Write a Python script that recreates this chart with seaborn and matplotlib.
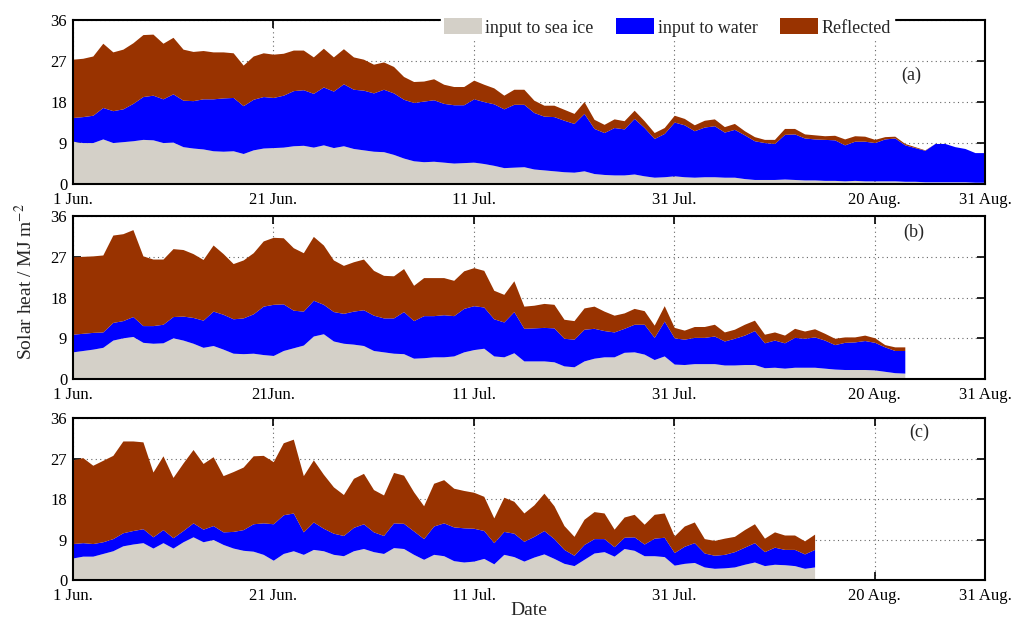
import numpy as np
import matplotlib
matplotlib.use("Agg")
from matplotlib import pyplot as plt
import seaborn as sns

# daily values (MJ m^-2), day 0 = 1 June
# each panel: top of "sea ice" layer, top of "water" layer, top of "reflected" layer (stacked)
ice_a = [9.4, 9.1, 9.1, 9.9, 9.1, 9.3, 9.5, 9.8, 9.7, 9.1, 9.2, 8.2, 7.9, 7.7, 7.3, 7.2, 7.3, 6.7, 7.5, 7.9,
         8.0, 8.1, 8.4, 8.5, 8.1, 8.6, 8.0, 8.4, 7.8, 7.5, 7.2, 7.1, 6.5, 5.7, 5.1, 4.9, 5.0, 4.8, 4.6, 4.7,
         4.8, 4.5, 4.1, 3.6, 3.7, 3.8, 3.3, 3.1, 2.9, 2.7, 2.6, 2.9, 2.3, 2.1, 2.0, 2.0, 2.2, 1.8, 1.5, 1.6,
         1.8, 1.6, 1.5, 1.6, 1.6, 1.5, 1.5, 1.2, 1.0, 1.0, 1.0, 1.1, 1.0, 0.9, 0.9, 0.8, 0.8, 0.7, 0.8, 0.7,
         0.7, 0.7, 0.7, 0.6, 0.6, 0.5, 0.5, 0.5, 0.5, 0.5, 0.4, 0.4]
water_a = [14.6, 14.8, 15.1, 16.8, 16.1, 16.5, 17.7, 19.2, 19.5, 18.7, 19.8, 18.4, 18.3, 18.7, 18.7, 18.9, 19.0, 17.2, 18.6, 19.2,
           19.0, 19.5, 20.5, 20.7, 19.9, 21.3, 20.4, 22.0, 20.8, 20.6, 20.0, 20.8, 20.0, 18.6, 17.9, 18.2, 18.5, 17.7, 17.4, 17.4,
           18.7, 18.1, 17.6, 16.5, 17.5, 17.5, 15.7, 14.9, 14.8, 14.0, 13.3, 15.5, 12.2, 11.3, 12.4, 12.1, 14.4, 12.4, 10.0, 11.1,
           13.6, 13.0, 11.7, 12.5, 12.8, 11.4, 12.0, 10.8, 9.5, 9.1, 8.9, 10.9, 11.0, 10.1, 9.9, 9.8, 9.7, 8.6, 9.4, 9.4,
           9.1, 9.9, 10.1, 8.6, 8.0, 7.4, 8.9, 8.9, 8.2, 7.8, 6.9, 6.9]
total_a = [27.4, 27.6, 28.1, 30.9, 29.0, 29.6, 31.0, 32.8, 32.9, 30.9, 32.2, 29.6, 29.1, 29.3, 29.0, 29.0, 28.8, 26.1, 28.1, 28.8,
           28.5, 28.7, 29.4, 29.4, 27.9, 29.8, 27.9, 29.7, 27.9, 27.4, 26.3, 26.8, 25.8, 23.6, 22.5, 22.6, 23.1, 21.9, 21.4, 21.4,
           22.8, 21.9, 21.1, 19.5, 20.8, 20.8, 18.4, 17.3, 17.3, 16.4, 15.5, 18.1, 14.2, 13.1, 14.3, 13.9, 16.2, 13.9, 11.3, 12.4,
           15.1, 14.4, 13.0, 14.0, 14.3, 12.6, 13.3, 11.7, 10.4, 9.8, 9.8, 12.2, 12.2, 11.0, 10.8, 10.6, 10.7, 9.9, 10.6, 10.5,
           9.8, 10.4, 10.5, 8.9, 8.2, 7.5, 8.9, 8.9, 8.2, 7.8, 6.9, 6.9]

ice_b = [6.0, 6.3, 6.6, 7.0, 8.6, 9.1, 9.4, 8.1, 7.9, 8.0, 9.1, 8.6, 7.9, 7.0, 7.4, 6.6, 5.7, 5.6, 5.7, 5.4,
         5.2, 6.3, 6.9, 7.5, 9.5, 10.0, 8.4, 7.9, 7.7, 7.4, 6.3, 6.0, 5.7, 5.6, 4.6, 4.7, 4.9, 4.9, 5.1, 6.0,
         6.5, 6.8, 5.1, 4.9, 5.8, 4.0, 4.0, 4.0, 3.8, 2.9, 2.7, 4.0, 4.6, 4.9, 4.9, 5.9, 6.0, 5.5, 4.3, 5.1,
         3.3, 3.2, 3.4, 3.4, 3.4, 3.1, 3.1, 3.2, 3.2, 2.5, 2.6, 2.4, 2.6, 2.6, 2.6, 2.4, 2.2, 2.1, 2.1, 2.1,
         2.0, 1.7, 1.4, 1.3]
water_b = [9.9, 10.1, 10.3, 10.4, 12.5, 12.9, 13.8, 11.8, 11.8, 12.1, 13.8, 13.9, 13.6, 13.0, 15.0, 14.3, 13.3, 13.5, 14.4, 16.1,
           16.5, 16.6, 15.2, 15.0, 17.4, 16.5, 14.9, 14.5, 15.0, 15.3, 14.1, 13.5, 13.5, 14.9, 12.9, 14.0, 14.0, 14.2, 14.0, 15.6,
           16.2, 15.9, 13.3, 12.6, 14.9, 11.2, 11.3, 11.4, 11.3, 9.0, 8.8, 11.0, 11.2, 10.7, 10.4, 11.2, 12.1, 12.1, 9.2, 12.8,
           9.1, 8.8, 9.2, 9.2, 9.5, 8.4, 9.0, 9.7, 10.7, 8.0, 8.6, 8.0, 9.2, 9.0, 9.3, 8.6, 7.6, 8.1, 8.2, 8.5,
           8.1, 7.1, 6.3, 6.3]
total_b = [27.0, 27.1, 27.2, 27.4, 31.8, 32.1, 33.0, 27.2, 26.5, 26.5, 28.8, 28.6, 27.7, 26.4, 29.6, 27.7, 25.5, 26.3, 27.9, 30.5,
           31.3, 31.2, 29.0, 27.9, 31.5, 29.6, 26.3, 25.1, 25.9, 26.5, 24.0, 22.9, 22.8, 24.4, 20.7, 22.4, 22.4, 22.4, 21.8, 23.9,
           24.6, 24.0, 19.6, 18.7, 21.7, 16.1, 16.3, 16.7, 16.5, 13.2, 12.9, 15.7, 16.1, 15.0, 14.1, 14.6, 15.6, 15.1, 11.9, 16.2,
           11.4, 10.8, 11.6, 11.6, 12.1, 10.4, 11.0, 12.1, 13.0, 9.9, 10.4, 9.7, 11.2, 10.6, 11.1, 10.1, 9.0, 9.3, 9.3, 9.7,
           9.1, 7.6, 7.1, 7.1]

ice_c = [4.9, 5.3, 5.3, 5.9, 6.5, 7.6, 8.0, 8.3, 7.1, 8.3, 7.1, 8.5, 9.6, 8.5, 9.0, 7.9, 7.1, 6.6, 6.4, 5.7,
         4.4, 5.9, 6.5, 5.7, 6.8, 6.5, 5.7, 5.4, 6.5, 7.0, 6.3, 5.9, 7.2, 7.0, 5.7, 4.6, 5.7, 5.4, 4.3, 4.0,
         4.2, 4.8, 3.6, 5.7, 5.2, 4.2, 5.1, 5.8, 4.8, 3.7, 3.2, 4.6, 6.0, 6.3, 5.3, 7.0, 6.6, 5.4, 5.4, 5.2,
         3.3, 3.7, 3.9, 2.9, 2.6, 2.7, 2.9, 3.5, 4.0, 3.2, 3.5, 3.4, 3.2, 2.6, 2.9]
water_c = [8.1, 8.3, 8.1, 8.5, 9.2, 10.5, 11.0, 11.4, 9.6, 11.2, 9.4, 11.0, 12.7, 11.3, 12.1, 10.7, 10.8, 11.2, 12.5, 12.7,
           12.5, 14.5, 14.9, 10.7, 12.9, 11.5, 10.4, 9.9, 11.7, 12.5, 10.7, 9.9, 12.7, 12.6, 10.9, 9.2, 12.0, 12.7, 11.8, 11.6,
           11.5, 11.0, 8.3, 10.8, 10.4, 8.6, 9.7, 11.0, 9.2, 6.8, 5.5, 7.9, 9.2, 9.2, 7.4, 9.5, 9.6, 8.0, 9.3, 9.5,
           6.1, 7.5, 8.3, 6.0, 5.5, 5.7, 6.3, 7.3, 8.3, 6.3, 7.3, 6.8, 6.8, 5.8, 6.8]
total_c = [26.7, 27.2, 25.5, 26.6, 27.7, 30.9, 30.9, 30.7, 24.0, 27.6, 22.8, 26.0, 29.0, 25.9, 27.4, 23.2, 24.1, 25.1, 27.6, 27.7,
           26.3, 30.5, 31.3, 23.2, 26.7, 23.5, 20.7, 19.0, 22.6, 23.7, 20.1, 18.9, 23.9, 23.3, 19.6, 16.5, 21.5, 22.3, 20.4, 19.9,
           19.5, 18.6, 13.8, 18.4, 17.5, 14.9, 16.7, 19.3, 16.5, 12.1, 9.7, 13.5, 15.2, 14.9, 11.3, 14.0, 14.6, 12.4, 14.6, 14.9,
           9.8, 12.0, 12.9, 9.2, 8.8, 9.3, 9.7, 11.2, 12.5, 9.3, 10.7, 10.0, 10.0, 8.7, 10.2]

tick_days = [0, 20, 40, 60, 80, 91]
tick_labels_a = ['1 Jun.', '21 Jun.', '11 Jul.', '31 Jul.', '20 Aug.', '31 Aug.']
tick_labels_b = ['1 Jun.', '21Jun.', '11 Jul.', '31 Jul.', '20 Aug.', '31 Aug.']
tick_labels_c = ['1 Jun.', '21 Jun.', '11 Jul.', '31 Jul.', '20 Aug.', '31 Aug.']
series_names = ['input to sea ice', 'input to water', 'Reflected']
colors = ['#d4d0c8', '#0000ff', '#993300']

sns.set_style('ticks')
plt.rcParams['font.family'] = ['Liberation Serif', 'DejaVu Serif']
plt.rcParams['mathtext.fontset'] = 'stix'

fig = plt.figure(figsize=(10.16, 6.19), dpi=100)
rects = [[0.0716, 0.7027, 0.8979, 0.2650],
         [0.0716, 0.3877, 0.8979, 0.2633],
         [0.0716, 0.0630, 0.8979, 0.2617]]
panels = [(ice_a, water_a, total_a, tick_labels_a, '(a)', (0.919, 0.66)),
          (ice_b, water_b, total_b, tick_labels_b, '(b)', (0.922, 0.90)),
          (ice_c, water_c, total_c, tick_labels_c, '(c)', (0.928, 0.91))]

axes = []
for rect, (ice, water, total, tlabels, tag, tagpos) in zip(rects, panels):
    ax = fig.add_axes(rect)
    days = np.arange(len(ice))
    ax.fill_between(days, 0, ice, color=colors[0], lw=0, label=series_names[0], zorder=2)
    ax.fill_between(days, ice, water, color=colors[1], lw=0, label=series_names[1], zorder=2)
    ax.fill_between(days, water, total, color=colors[2], lw=0, label=series_names[2], zorder=2)
    ax.set_xlim(0, 91)
    ax.set_ylim(0, 36)
    ax.set_yticks([0, 9, 18, 27, 36])
    ax.set_xticks(tick_days)
    ax.set_xticklabels(tlabels)
    ax.grid(True, linestyle=(0, (1, 3)), color='#666666', linewidth=0.8, zorder=1)
    ax.set_axisbelow(True)
    ax.tick_params(direction='in', length=6, width=1.2, top=True, right=True,
                   labelsize=12, colors='black')
    ax.tick_params(axis='x', pad=6)
    ax.tick_params(axis='y', pad=4)
    for s in ax.spines.values():
        s.set_linewidth(1.5)
        s.set_color('black')
        s.set_zorder(3)
    ax.text(tagpos[0], tagpos[1], tag, transform=ax.transAxes, ha='center', va='center', fontsize=13)
    axes.append(ax)

leg = axes[0].legend(loc='center', bbox_to_anchor=(0.652, 0.955), ncol=3, fontsize=13,
                     frameon=True, fancybox=False, edgecolor='white', framealpha=1,
                     handlelength=2.1, handleheight=1.0, handletextpad=0.2, columnspacing=1.25,
                     borderpad=0.15, borderaxespad=0)
leg.set_zorder(10)

axes[2].set_xlabel('Date', fontsize=14, labelpad=-2)
fig.text(0.025, 0.545, 'Solar heat / MJ m$^{-2}$', rotation=90, ha='center', va='center', fontsize=14)

fig.savefig('out.png', dpi=100)
